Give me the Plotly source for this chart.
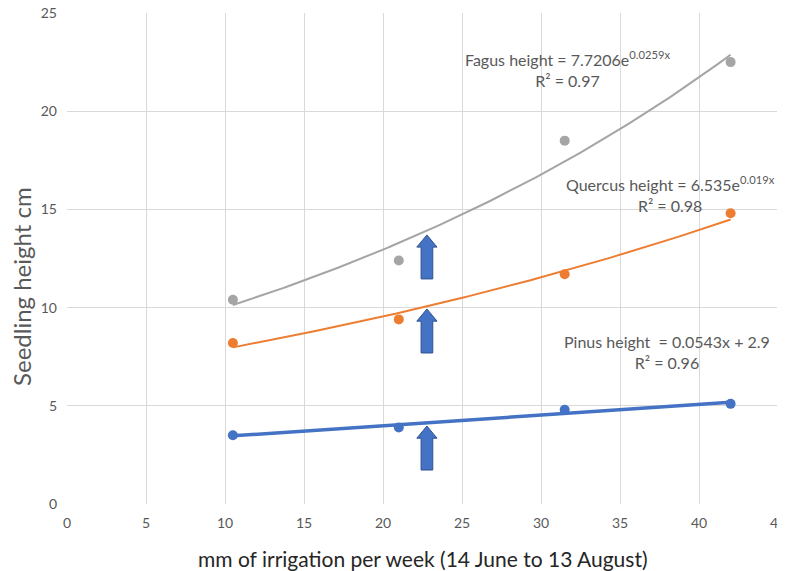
import numpy as np
import plotly.graph_objects as go

# Data
irrigation = [10.5, 21, 31.5, 42]
fagus = [10.4, 12.4, 18.5, 22.5]
quercus = [8.2, 9.4, 11.7, 14.8]
pinus = [3.5, 3.9, 4.8, 5.1]

x_ticks = [0, 5, 10, 15, 20, 25, 30, 35, 40, 45]
y_ticks = [0, 5, 10, 15, 20, 25]

GRAY = "#A5A5A5"
ORANGE = "#ED7D31"
BLUE = "#4472C4"
TXT = "#595959"
FONT = "Lato, 'Open Sans', sans-serif"

x = np.array(irrigation, dtype=float)
xs = np.linspace(x.min(), x.max(), 200)

def exp_fit(y):
    b, a = np.polyfit(x, np.log(np.array(y, dtype=float)), 1)
    return np.exp(a) * np.exp(b * xs)

def lin_fit(y):
    m, c = np.polyfit(x, np.array(y, dtype=float), 1)
    return m * xs + c

fig = go.Figure()

fig.add_trace(go.Scatter(x=xs, y=exp_fit(fagus), mode="lines",
                         line=dict(color=GRAY, width=2), hoverinfo="skip", showlegend=False))
fig.add_trace(go.Scatter(x=xs, y=exp_fit(quercus), mode="lines",
                         line=dict(color=ORANGE, width=2), hoverinfo="skip", showlegend=False))
fig.add_trace(go.Scatter(x=xs, y=lin_fit(pinus), mode="lines",
                         line=dict(color=BLUE, width=3.5), hoverinfo="skip", showlegend=False))

for ys, col, name in [(fagus, GRAY, "Fagus"), (quercus, ORANGE, "Quercus"), (pinus, BLUE, "Pinus")]:
    fig.add_trace(go.Scatter(x=irrigation, y=ys, mode="markers", name=name,
                             marker=dict(color=col, size=10), showlegend=False))

# Block arrows (decorations)
arrow_x = 22.78
arrow_tips = [13.70, 9.93, 3.97]
arrow_len = 2.24
head_len = 0.62
head_half = 0.64
shaft_half = 0.37
for tip in arrow_tips:
    base = tip - arrow_len
    hb = tip - head_len
    path = (f"M {arrow_x - shaft_half} {base} L {arrow_x + shaft_half} {base} "
            f"L {arrow_x + shaft_half} {hb} L {arrow_x + head_half} {hb} "
            f"L {arrow_x} {tip} L {arrow_x - head_half} {hb} "
            f"L {arrow_x - shaft_half} {hb} Z")
    fig.add_shape(type="path", path=path, xref="x", yref="y",
                  fillcolor=BLUE, line=dict(color="#2F528F", width=1))

ann_font = dict(family=FONT, size=16, color=TXT)
fig.add_annotation(x=31.7, y=22.15, xref="x", yref="y", showarrow=False,
                   text="Fagus height = 7.7206e<sup>0.0259x</sup><br>R² = 0.97",
                   font=ann_font, align="center")
fig.add_annotation(x=38.2, y=15.8, xref="x", yref="y", showarrow=False,
                   text="Quercus height = 6.535e<sup>0.019x</sup><br>R² = 0.98",
                   font=ann_font, align="center")
fig.add_annotation(x=38.0, y=7.74, xref="x", yref="y", showarrow=False,
                   text="Pinus height  = 0.0543x + 2.9<br>R² = 0.96",
                   font=ann_font, align="center")

# Axis titles
fig.add_annotation(x=0.5, y=0, xref="paper", yref="paper", yanchor="middle",
                   yshift=-54, showarrow=False,
                   text="mm of irrigation per week (14 June to 13 August)",
                   font=dict(family=FONT, size=21, color="#262626"))
fig.add_annotation(x=0, y=0.442, xref="paper", yref="paper", xanchor="center",
                   yanchor="middle", xshift=-45, showarrow=False, textangle=-90,
                   text="Seedling height cm",
                   font=dict(family=FONT, size=24, color=TXT))

# The page body adds an 8px offset; margins compensate for it.
fig.update_layout(
    width=785, height=571,
    margin=dict(l=59, r=15, t=5, b=75),
    paper_bgcolor="white", plot_bgcolor="white",
    font=dict(family=FONT, color=TXT),
    xaxis=dict(range=[0, 45], tickvals=x_ticks, showgrid=True, gridcolor="#D9D9D9",
               gridwidth=1, zeroline=False, showline=False, ticks="",
               automargin=False, ticklabelstandoff=9, ticklabeloverflow="allow",
               tickfont=dict(size=14, color=TXT)),
    yaxis=dict(range=[0, 25], tickvals=y_ticks, showgrid=True, gridcolor="#D9D9D9",
               gridwidth=1, zeroline=False, showline=False, ticks="",
               automargin=False, ticklabelstandoff=9, ticklabeloverflow="allow",
               tickfont=dict(size=14, color=TXT)),
)

fig.write_html("out.html")
